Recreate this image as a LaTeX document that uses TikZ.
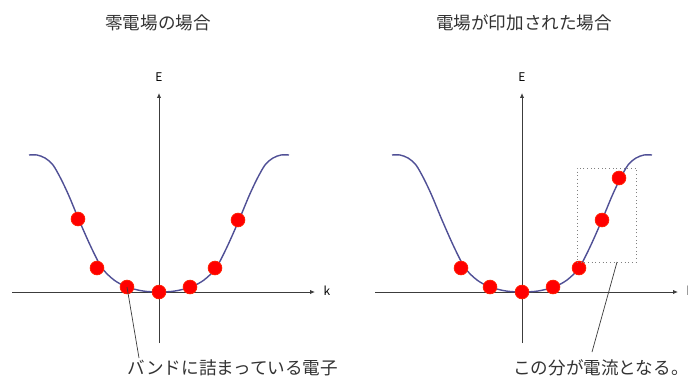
\documentclass[tikz,border=0pt]{standalone}
\usepackage{fontspec}
\setmainfont{Noto Sans CJK JP}
\definecolor{bandblue}{RGB}{80,80,150}
\definecolor{axisgray}{RGB}{60,60,60}
\usetikzlibrary{arrows.meta, positioning}

\begin{document}
\begin{tikzpicture}[
    x=0.025cm, y=-0.025cm,
    axis/.style={axisgray, line width=0.6pt, -{Latex[length=3.5pt, width=3pt]}},
    band/.style={bandblue, line width=1pt},
    elec/.style={circle, fill=red, draw=red!75!orange, line width=0.5pt, minimum size=0.345cm, inner sep=0pt},
    ttl/.style={font=\fontsize{12.5}{14}\selectfont, text=black!80},
    lbl/.style={font=\fontsize{12.5}{14}\selectfont, text=black!80},
    axlbl/.style={font=\fontsize{8.5}{9}\selectfont},
    leader/.style={axisgray, line width=0.5pt},
]
\useasboundingbox[fill=white] (0,0) rectangle (688,383);

% Titles
\node[ttl] (t1) at (158,23) {零電場の場合};
\node[ttl] (t2) at (524,23) {電場が印加された場合};

% Axes and band curve for both panels
\foreach \ox/\p in {159/L, 522/R} {
  \begin{scope}[shift={(\ox,292)}, yscale=-1]
    \coordinate (\p k0) at (-147,0);
    \coordinate (\p k1) at (156,0);
    \coordinate (\p e0) at (0,-51);
    \coordinate (\p e1) at (0,199);
    \draw[axis] (\p k0) -- (\p k1);
    \draw[axis] (\p e0) -- (\p e1);
    \node[axlbl] (\p E) at (0,215) {E};
    \node[axlbl] (\p K) at (168,1) {k};
    \draw[band] plot[smooth, tension=0.5] coordinates {
      (-130,137) (-122,137) (-114,134) (-106,127) (-98,113) (-90,96) (-80,72)
      (-68,45) (-57,24) (-45,12) (-32,5) (-16,1) (0,0) (16,1) (32,5) (45,12)
      (57,24) (68,45) (80,72) (90,96) (98,113) (106,127) (114,134) (122,137) (130,137)};
  \end{scope}
}

% Electrons, zero field
\node[elec] (l1) at (78,219) {};
\node[elec] (l2) at (97,268) {};
\node[elec] (l3) at (127,287) {};
\node[elec] (l4) at (159,292) {};
\node[elec] (l5) at (190,287) {};
\node[elec] (l6) at (215,268) {};
\node[elec] (l7) at (238,220) {};

% Electrons, applied field
\node[elec] (r1) at (461,268) {};
\node[elec] (r2) at (490,287) {};
\node[elec] (r3) at (522,292) {};
\node[elec] (r4) at (553,287) {};
\node[elec] (r5) at (579,268) {};
\node[elec] (r6) at (602,220) {};
\node[elec] (r7) at (619,178) {};

% Shifted part
\node[draw=gray, dotted, line width=0.6pt, minimum width=1.475cm, minimum height=2.35cm, inner sep=0pt] (curbox) at (606.5,215) {};

% Labels with leader lines
\node[lbl] (fill) at (233,368) {バンドに詰まっている電子};
\node[lbl] (curr) at (601,368) {この分が電流となる。};
\coordinate (fillend) at (139,358);
\coordinate (boxpt) at (617,262);
\coordinate (currend) at (592,352);
\draw[leader] (l3.center) -- (fillend);
\draw[leader] (boxpt) -- (currend);

\end{tikzpicture}
\end{document}
